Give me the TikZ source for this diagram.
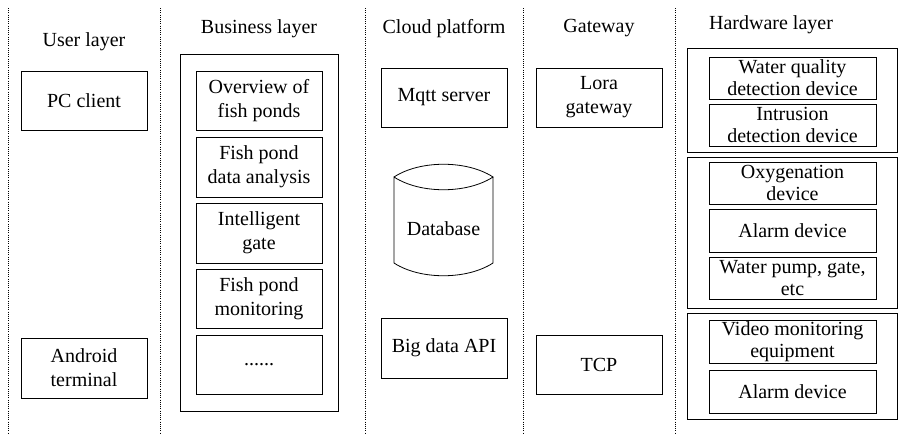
\documentclass[tikz,border=0pt]{standalone}
\usepackage{fontspec}
\setmainfont{Liberation Serif}
\usetikzlibrary{positioning}

\begin{document}
\begin{tikzpicture}[x=1pt,y=-1pt,
  every node/.style={font=\fontsize{20}{24}\selectfont},
  title/.style={anchor=base},
  box/.style={draw,line width=0.8pt,minimum width=126pt,minimum height=59pt,inner sep=0pt,align=center},
  hwbox/.style={draw,line width=0.8pt,minimum width=167pt,minimum height=42pt,inner sep=0pt,align=center,font=\fontsize{20}{22}\selectfont},
  group/.style={draw,line width=0.8pt},
  sep/.style={line width=0.8pt,dash pattern=on 0.8pt off 1.4pt}]
 \useasboundingbox (0,0) rectangle (922,439);
 \def\xU{84}    % column centres
 \def\xB{259}
 \def\xC{444}
 \def\xG{599}
 \def\xH{792.5}
% layer separators
 \foreach \x in {8,160,365,523,675}
  \draw[sep] (\x,8) -- (\x,433);
% titles
 \node[title] (tU) at (\xU,46) {User layer};
 \node[title] (tB) at (\xB,34) {Business layer};
 \node[title] (tC) at (\xC,34) {Cloud platform};
 \node[title] (tG) at (\xG,32) {Gateway};
 \node[title] (tH) at (771,29) {Hardware layer};
% user layer
 \node[box] (pc) at (\xU,100.5) {PC client};
 \node[box,minimum height=60pt] (android) at (\xU,368) {Android\\terminal};
% business layer
 \draw[group] (180,54) rectangle (338,411);
 \node[box] (overview) at (\xB,100.5) {Overview of\\fish ponds};
 \node[box,minimum height=60pt] (analysis) at (\xB,167) {Fish pond\\data analysis};
 \node[box,minimum height=60pt] (gate) at (\xB,233) {Intelligent\\gate};
 \node[box] (monitor) at (\xB,298.5) {Fish pond\\monitoring};
 \node[box] (more) at (\xB,364.5) {......};
% cloud platform
 \node[box] (mqtt) at (\xC,97.5) {Mqtt server};
 \node (db) at (443.5,229) {Database};
 \draw[line width=0.8pt] (394,177) .. controls (420,160) and (467,160) .. (493,177)
   .. controls (467,194) and (420,194) .. (394,177) -- (394,263)
   .. controls (420,280) and (467,280) .. (493,263) -- (493,177);
 \node[box,minimum height=60pt] (api) at (\xC,348) {Big data API};
% gateway
 \node[box] (lora) at (\xG,97.5) {Lora\\gateway};
 \node[box] (tcp) at (\xG,364.5) {TCP};
% hardware layer
 \draw[group] (687,48) rectangle (897,152);
 \draw[group] (687,157) rectangle (897,308);
 \draw[group] (687,313) rectangle (897,419);
 \node[hwbox] (quality) at (\xH,78) {Water quality\\detection device};
 \node[hwbox] (intrusion) at (\xH,125) {Intrusion\\detection device};
 \node[hwbox] (oxygen) at (\xH,183) {Oxygenation\\device};
 \node[hwbox,minimum height=43pt] (alarmA) at (\xH,230.5) {Alarm device};
 \node[hwbox] (pump) at (\xH,278) {Water pump, gate,\\etc};
 \node[hwbox,minimum height=43pt] (video) at (\xH,341.5) {Video monitoring\\equipment};
 \node[hwbox,minimum height=43pt] (alarmB) at (\xH,391.5) {Alarm device};
\end{tikzpicture}
\end{document}
